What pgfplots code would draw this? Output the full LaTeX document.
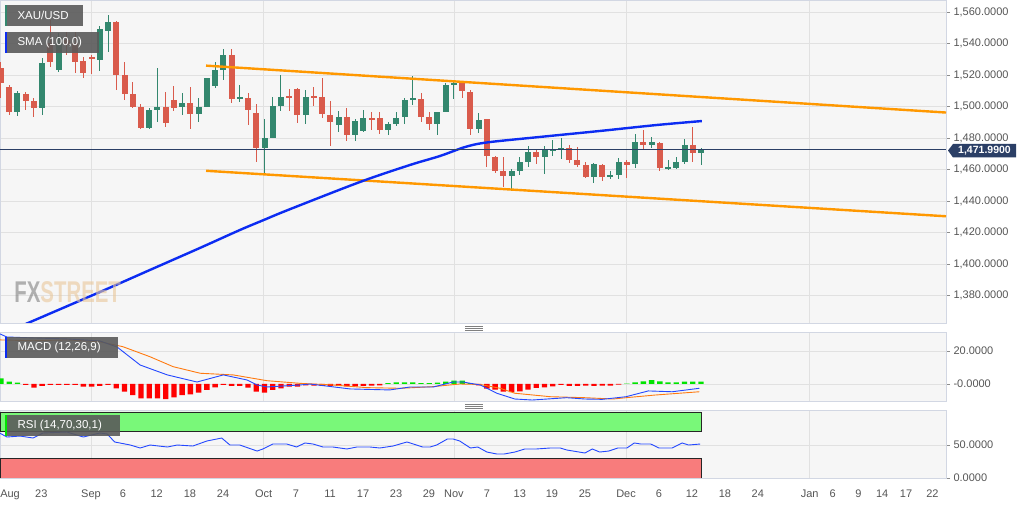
\documentclass[border=0pt]{standalone}
\usepackage{pgfplots}
\pgfplotsset{compat=1.18}
\usepackage{pgfplotstable}
\usepackage{fontspec}
\setmainfont{Liberation Sans}

\definecolor{bull}{HTML}{33876E}
\definecolor{bear}{HTML}{D95B4C}
\definecolor{panelbg}{HTML}{F6F6F6}
\definecolor{panelborder}{HTML}{D2D7E3}
\definecolor{gridc}{HTML}{E1E1E1}
\definecolor{trend}{HTML}{FF9800}
\definecolor{smablue}{HTML}{0C2CF2}
\definecolor{lastline}{HTML}{2B3F66}
\definecolor{ticktext}{HTML}{555555}
\definecolor{boxgray}{HTML}{5A5A5A}
\definecolor{histred}{HTML}{FF0000}
\definecolor{histgreen}{HTML}{00E400}
\definecolor{macdblue}{HTML}{2448FF}
\definecolor{macdorange}{HTML}{FF7A10}
\definecolor{obgreen}{HTML}{79F879}
\definecolor{osred}{HTML}{F87C7C}
\definecolor{wmorange}{HTML}{E9C79A}

% candles: day index, open, high, low, close
\pgfplotstableread{
i o h l c
2 1496.7 1510.0 1494.1 1508.7
5 1499.2 1531.0 1494.7 1527.8
7 1523.3 1546.8 1522.1 1544.3
12 1529.7 1551.3 1522.7 1549.4
13 1548.1 1558.3 1534.8 1553.8
18 1486.5 1499.2 1485.9 1497.9
19 1497.9 1524.6 1490.3 1499.8
22 1499.8 1508.7 1494.7 1502.4
24 1495.4 1505.6 1490.3 1499.8
25 1499.8 1518.3 1499.8 1518.3
26 1513.2 1528.4 1511.9 1523.3
27 1523.3 1536.7 1517.0 1532.9
29 1504.9 1513.8 1503.0 1506.2
32 1473.8 1492.2 1457.9 1480.1
33 1480.1 1506.2 1480.1 1500.5
34 1500.5 1520.2 1497.3 1506.2
37 1494.7 1510.6 1489.0 1506.2
41 1488.4 1497.3 1484.0 1493.5
43 1482.0 1492.2 1478.2 1490.9
44 1484.6 1497.9 1484.0 1492.8
47 1485.2 1490.3 1482.0 1489.0
48 1489.0 1496.7 1487.8 1492.8
49 1493.5 1505.6 1489.0 1504.3
50 1504.3 1519.5 1501.1 1505.6
53 1489.0 1496.7 1482.0 1496.7
54 1496.7 1515.1 1496.7 1513.8
55 1514.0 1517.0 1504.9 1515.3
58 1485.9 1496.0 1483.3 1491.6
62 1456.0 1460.5 1446.5 1459.2
63 1459.2 1468.1 1456.6 1464.9
64 1464.9 1475.1 1461.7 1471.2
66 1468.1 1475.1 1457.3 1472.5
67 1472.1 1478.9 1468.7 1473.4
68 1472.5 1480.1 1466.8 1473.8
72 1455.4 1464.3 1451.6 1463.6
74 1455.4 1459.2 1454.1 1456.7
75 1456.6 1467.4 1454.1 1464.9
77 1463.6 1482.7 1461.1 1477.6
79 1476.0 1480.8 1473.8 1477.3
81 1460.5 1466.2 1459.8 1461.8
82 1461.1 1468.1 1460.5 1464.9
83 1464.9 1479.5 1463.6 1475.7
85 1470.6 1473.8 1463.0 1472.5
}\bullc

\pgfplotstableread{
i o h l c
0 1524.6 1528.4 1505.6 1515.1
1 1512.5 1513.8 1494.7 1496.7
3 1508.1 1509.4 1497.9 1503.6
4 1503.6 1505.6 1493.5 1499.2
6 1540.5 1555.1 1525.2 1528.4
8 1542.4 1547.5 1532.9 1539.2
9 1540.5 1547.5 1521.4 1528.4
10 1529.1 1531.6 1518.3 1521.4
11 1531.6 1532.9 1520.8 1530.3
14 1553.8 1554.5 1510.6 1520.2
15 1520.2 1528.4 1504.3 1508.1
16 1508.1 1515.7 1499.2 1499.8
17 1499.8 1501.7 1485.9 1486.5
20 1499.8 1509.4 1487.1 1489.7
21 1504.3 1513.2 1497.3 1499.2
23 1502.4 1512.5 1485.9 1495.4
28 1532.9 1536.7 1502.4 1504.9
30 1505.6 1508.7 1488.4 1497.9
31 1496.0 1501.7 1464.9 1473.8
35 1506.8 1511.3 1497.3 1505.5
36 1511.3 1511.6 1489.7 1494.7
38 1506.8 1512.5 1500.5 1505.5
39 1506.2 1518.3 1492.8 1495.4
40 1494.7 1503.6 1475.1 1490.3
42 1493.5 1499.2 1478.2 1482.0
45 1492.8 1496.7 1485.2 1491.3
46 1492.8 1496.7 1482.7 1485.2
51 1504.9 1508.7 1490.3 1493.5
52 1493.5 1496.7 1485.2 1489.0
56 1515.1 1515.7 1505.6 1510.0
57 1509.4 1510.6 1482.0 1485.9
59 1492.2 1492.2 1461.7 1468.7
60 1468.1 1468.7 1457.9 1459.2
61 1459.2 1468.1 1449.0 1456.0
65 1471.2 1473.2 1463.6 1468.1
69 1473.8 1475.7 1464.3 1466.2
70 1466.2 1474.4 1461.7 1463.0
71 1463.0 1464.9 1454.7 1455.4
73 1463.0 1463.6 1452.8 1455.4
76 1464.6 1466.2 1454.7 1463.3
78 1477.6 1485.2 1472.5 1475.7
80 1477.0 1477.6 1459.2 1461.1
84 1475.7 1487.1 1464.9 1470.6
}\bearc

\pgfplotsset{
  panel/.style={
    scale only axis, width=946pt,
    xmin=-0.12, xmax=114.75,
    axis background/.style={fill=panelbg},
    axis line style={draw=panelborder, line width=0.8pt},
    xtick={10.93,31.9,55.0,75.9,98.2}, xticklabels={},
    xtick style={draw=none},
    xmajorgrids, ymajorgrids,
    grid style={draw=gridc, line width=0.8pt},
    ytick pos=right, yticklabel pos=right,
    tick align=outside, major tick length=4pt,
    ytick style={draw=black!45, line width=0.6pt},
    yticklabel style={font=\fontsize{11}{12}\selectfont, text=ticktext},
  },
  wick/.style={draw=none, mark=none,
    error bars/y dir=both, error bars/y explicit, error bars/error mark=none,
    error bars/error bar style={draw=#1, line width=1pt}},
  body/.style={draw=none, mark=none,
    error bars/y dir=both, error bars/y explicit, error bars/error mark=none,
    error bars/error bar style={draw=#1, line width=6pt}},
}

\begin{document}
\begin{tikzpicture}
\path[use as bounding box] (0,0) rectangle (1032pt,505pt);

% price panel
\begin{axis}[panel, at={(0pt,182pt)}, anchor=south west, height=323pt,
  ymin=1362.6, ymax=1567.8,
  ytick={1380,1400,1420,1440,1460,1480,1500,1520,1540,1560},
  yticklabels={{1,380.0000},{1,400.0000},{1,420.0000},{1,440.0000},{1,460.0000},
    {1,480.0000},{1,500.0000},{1,520.0000},{1,540.0000},{1,560.0000}},
]
\addplot[wick=bull] table[x=i, y expr={(\thisrow{h}+\thisrow{l})/2},
  y error expr={(\thisrow{h}-\thisrow{l})/2}] {\bullc};
\addplot[wick=bear] table[x=i, y expr={(\thisrow{h}+\thisrow{l})/2},
  y error expr={(\thisrow{h}-\thisrow{l})/2}] {\bearc};
\addplot[body=bull] table[x=i, y expr={(\thisrow{o}+\thisrow{c})/2},
  y error expr={abs(\thisrow{c}-\thisrow{o})/2}] {\bullc};
\addplot[body=bear] table[x=i, y expr={(\thisrow{o}+\thisrow{c})/2},
  y error expr={abs(\thisrow{c}-\thisrow{o})/2}] {\bearc};
% channel
\addplot[trend, line width=2.4pt] coordinates {(24.9,1526.1) (114.75,1496.3)};
\addplot[trend, line width=2.4pt] coordinates {(24.9,1459.3) (114.75,1430.4)};
% SMA 100
\addplot[smablue, line width=2.4pt, smooth] coordinates {
  (1.0,1357.6) (3.28,1362.6) (12.02,1382.3) (18.09,1396.3) (24.17,1410.3)
  (29.02,1421.7) (31.94,1428.1) (34.85,1434.4) (43.6,1452.2) (49.67,1463.0)
  (53.31,1468.7) (56.35,1474.4) (59.0,1477.3) (65.45,1480.8) (72.74,1484.6)
  (79.66,1488.4) (85.1,1490.9)};
% last price
\addplot[lastline, line width=0.8pt] coordinates {(-0.12,1472.8) (114.75,1472.8)};
\end{axis}

% MACD panel
\begin{axis}[panel, at={(0pt,104pt)}, anchor=south west, height=69pt,
  ymin=-10.3, ymax=31.5, ytick={0,20}, yticklabels={-0.0000,20.0000},
]
\addplot[ybar, bar width=0.65, fill=histred, draw=none] coordinates {
  (3,-0.5)(4,-2.2)(5,-1.2)(6,-0.5)(7,-0.5)(8,-0.5)(9,-0.6)(10,-1.6)(11,-1.6)
  (12,-1.2)(13,-0.6)(14,-2.6)(15,-4.6)(16,-6.7)(17,-8.7)(18,-8.7)(19,-8.7)
  (20,-9.1)(21,-8.1)(22,-6.7)(23,-6.3)(24,-5.3)(25,-3.6)(26,-2.0)(27,-0.6)
  (28,-1.2)(29,-1.2)(30,-2.2)(31,-4.6)(32,-5.3)(33,-3.6)(34,-2.6)(35,-1.6)
  (36,-1.6)(37,-0.8)(38,-1.0)(39,-1.2)(40,-1.2)(41,-1.2)(42,-1.4)(43,-1.4)
  (44,-1.2)(45,-1.0)(46,-0.8)(58,-0.8)(59,-2.8)(60,-3.4)(61,-4.6)(62,-5.0)
  (63,-4.4)(64,-3.4)(65,-2.4)(66,-2.0)(67,-1.4)(68,-0.6)(69,-1.2)(70,-1.2)
  (71,-1.0)(72,-1.2)(73,-1.0)(74,-1.0)(75,-0.4)};
\addplot[ybar, bar width=0.65, fill=histgreen, draw=none] coordinates {
  (0,3.4)(1,1.4)(2,0.8)(47,0.5)(48,1.0)(49,1.0)(50,1.0)(51,0.6)(52,0.6)
  (53,0.8)(54,1.4)(55,2.0)(56,2.0)(57,0.6)(76,0.3)(77,1.0)(78,1.6)(79,2.4)
  (80,1.6)(81,1.0)(82,1.0)(83,1.4)(84,1.4)(85,1.4)};
\addplot[macdorange, line width=0.9pt] coordinates {
  (-0.1,26.7)(3.9,26.2)(8.0,26.7)(12.0,25.6)(14.8,22.6)(18.1,16.5)(20.9,10.5)
  (24.2,6.5)(28.2,5.5)(32.3,2.0)(36.3,0.4)(40.3,-0.6)(44.4,-2.2)(48.5,-2.6)
  (52.5,-1.6)(55.7,0.0)(58.2,-0.3)(60.6,-2.6)(62.4,-5.6)(66.7,-7.7)(70.9,-8.3)
  (74.3,-9.1)(75.9,-8.3)(79.4,-6.7)(84.8,-4.7)};
\addplot[macdblue, line width=0.9pt] coordinates {
  (-0.1,30.3)(0.7,28.5)(3.9,27.9)(8.0,27.3)(12.0,26.1)(14.1,22.4)(16.9,11.5)
  (20.2,5.5)(23.8,1.2)(27.0,5.5)(29.9,2.4)(31.1,-0.6)(32.3,-1.8)(36.3,-0.6)
  (37.5,0.0)(42.4,-3.0)(47.2,-3.6)(49.7,-1.8)(52.5,-1.8)(54.9,1.2)(56.1,1.2)
  (58.2,-0.6)(60.2,-5.6)(62.4,-9.1)(64.5,-9.7)(68.7,-8.3)(70.9,-9.1)(73.0,-9.3)
  (75.9,-7.7)(78.6,-4.2)(81.5,-4.7)(84.8,-2.6)};
\end{axis}

% RSI panel
\begin{axis}[panel, at={(0pt,27pt)}, anchor=south west, height=68pt,
  ymin=0, ymax=102.9, ytick={0,50}, yticklabels={0.0000,50.0000},
  extra x ticks={1.1,4.9,10.93,14.8,18.9,22.95,26.96,31.9,35.8,39.95,43.96,47.97,
    51.97,55.0,59.0,63.0,66.9,70.9,75.9,79.9,83.9,87.9,91.9,98.2,101.0,104.1,
    107.0,109.9,113.1},
  extra x tick labels={Aug,23,Sep,6,12,18,24,Oct,7,11,17,23,29,Nov,7,13,19,25,
    Dec,6,12,18,24,Jan,6,9,14,17,22},
  extra x tick style={grid=none, tick style={draw=none}},
  xticklabel style={font=\fontsize{11}{12}\selectfont, text=ticktext, yshift=-4pt},
]
\addplot[fill=obgreen, draw=black!85, line width=0.8pt] coordinates {
  (-0.12,70) (85.0,70) (85.0,100) (-0.12,100) (-0.12,70)};
\addplot[fill=osred, draw=black!85, line width=0.8pt] coordinates {
  (-0.12,0) (85.0,0) (85.0,30) (-0.12,30) (-0.12,0)};
\addplot[macdblue, line width=0.9pt] coordinates {
  (-0.1,67.6)(0.73,62.0)(2.3,63.5)(3.9,60.5)(5.1,68.1)(8.0,69.6)(10.0,62.0)
  (12.0,68.1)(12.9,66.6)(13.8,54.5)(15.7,49.9)(16.9,45.4)(18.1,49.9)(20.2,46.9)
  (21.4,49.9)(23.3,48.4)(25.0,56.0)(26.8,60.5)(27.8,49.9)(29.0,49.9)(31.1,40.8)
  (31.8,43.9)(33.0,51.4)(34.7,51.4)(35.9,46.9)(36.9,53.0)(37.9,51.4)(39.1,46.9)
  (40.3,46.9)(42.0,43.9)(43.2,46.9)(44.8,46.9)(46.0,45.4)(47.6,48.4)(49.3,54.5)
  (51.2,46.9)(52.1,46.9)(52.9,49.9)(54.2,59.0)(54.9,59.0)(55.7,56.0)(57.0,45.4)
  (57.9,46.9)(59.0,39.3)(60.2,36.3)(61.1,36.3)(62.4,39.3)(63.6,43.9)(65.0,43.9)
  (66.7,45.4)(67.9,45.4)(68.7,42.4)(70.9,37.8)(71.8,43.9)(72.7,39.3)(73.8,40.8)
  (74.9,45.4)(76.0,45.4)(76.9,53.0)(77.7,51.4)(78.9,51.4)(79.9,45.4)(81.5,45.4)
  (82.7,53.0)(83.5,49.9)(84.9,51.4)};
\end{axis}

% labels and decorations, in pixel coordinates from the top left
\begin{scope}[x=1pt, y=-1pt, shift={(0pt,505pt)}]
  \node[anchor=west, font=\bfseries\fontsize{30}{30}\selectfont, xscale=0.68, opacity=0.6]
    at (12,292) {\textcolor{gray}{FX}\textcolor{wmorange}{STREET}};
  \fill[boxgray, opacity=0.9] (5,5) rectangle (83,26);
  \fill[bull] (5,5) rectangle (7,26);
  \node[anchor=west, text=white, font=\fontsize{11.5}{13}\selectfont] at (14,15.5) {XAU/USD};
  \fill[boxgray, opacity=0.9] (5,32) rectangle (99,53);
  \fill[smablue] (5,32) rectangle (7,53);
  \node[anchor=west, text=white, font=\fontsize{11.5}{13}\selectfont] at (14,42.5) {SMA (100,0)};
  \fill[boxgray, opacity=0.9] (5,337) rectangle (118,358);
  \fill[smablue] (5,337) rectangle (7,358);
  \node[anchor=west, text=white, font=\fontsize{11.5}{13}\selectfont] at (14,347.5) {MACD (12,26,9)};
  \fill[boxgray, opacity=0.9] (5,415) rectangle (120,436);
  \fill[histgreen] (5,415) rectangle (7,436);
  \node[anchor=west, text=white, font=\fontsize{11.5}{13}\selectfont] at (14,425.5) {RSI (14,70,30,1)};
  \foreach \yy in {326.5,328.5,330.5,404.5,406.5,408.5}
    \draw[black!50, line width=0.6pt] (465,\yy) -- (483,\yy);
  \fill[lastline] (948,150.5) -- (953,144) -- (1016,144) -- (1016,157.5) -- (953,157.5) -- cycle;
  \node[text=white, font=\bfseries\fontsize{10.5}{12}\selectfont] at (984.5,150.8) {1,471.9900};
\end{scope}
\end{tikzpicture}
\end{document}
